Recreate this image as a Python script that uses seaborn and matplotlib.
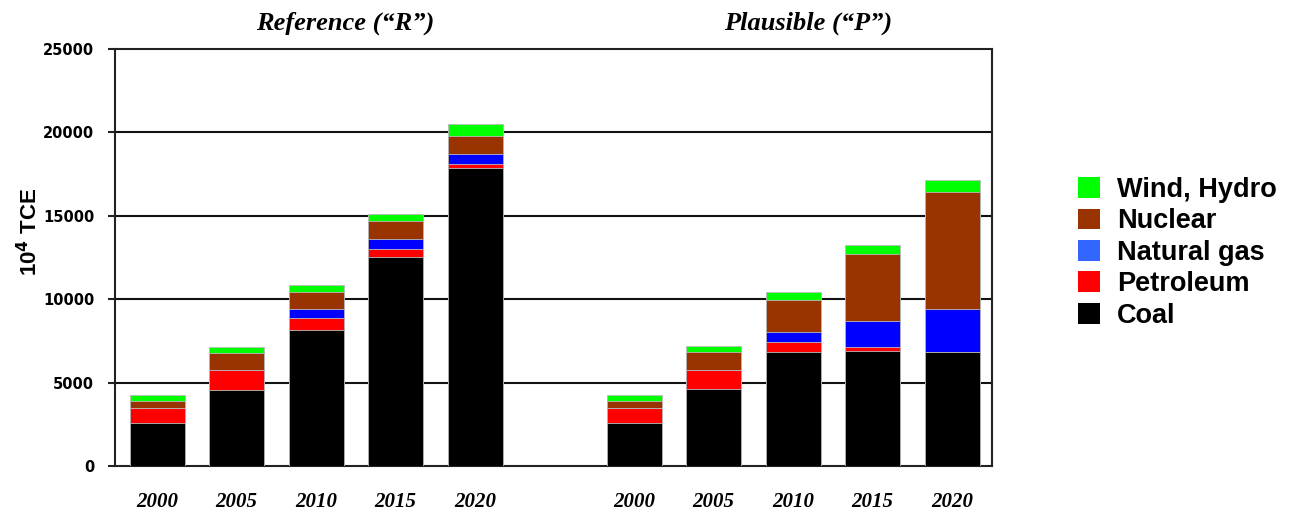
import pandas as pd
import seaborn as sns
from matplotlib import pyplot as plt
from matplotlib.patches import Patch

years = ["2000", "2005", "2010", "2015", "2020"]
sources = ["Coal", "Petroleum", "Natural gas", "Nuclear", "Wind, Hydro"]

coal_r = [2550, 4550, 8130, 12520, 17890]
petroleum_r = [950, 1200, 750, 500, 240]
gas_r = [0, 0, 540, 560, 600]
nuclear_r = [400, 1030, 1020, 1100, 1060]
wind_r = [330, 380, 420, 440, 720]

coal_p = [2560, 4600, 6810, 6910, 6810]
petroleum_p = [940, 1170, 620, 200, 0]
gas_p = [0, 0, 620, 1590, 2610]
nuclear_p = [390, 1040, 1880, 4020, 7030]
wind_p = [340, 400, 510, 520, 720]

bar_colors = {"Coal": "#000000", "Petroleum": "#ff0000", "Natural gas": "#0000ff",
              "Nuclear": "#993300", "Wind, Hydro": "#00ff00"}
legend_colors = {"Coal": "#000000", "Petroleum": "#ff0000", "Natural gas": "#3366ff",
                 "Nuclear": "#993300", "Wind, Hydro": "#00ff00"}

rows = []
for scen, series in [("R", [coal_r, petroleum_r, gas_r, nuclear_r, wind_r]),
                     ("P", [coal_p, petroleum_p, gas_p, nuclear_p, wind_p])]:
    for src, vals in zip(sources, series):
        for yr, v in zip(years, vals):
            rows.append({"slot": scen + yr, "year": yr, "source": src, "value": v})
df = pd.DataFrame(rows)
df["source"] = pd.Categorical(df["source"], categories=sources, ordered=True)
df = df.sort_values(["slot", "source"])
df["top"] = df.groupby("slot")["value"].cumsum()

# empty slot between the two scenarios
order = ["R" + y for y in years] + [" "] + ["P" + y for y in years]

sns.set_style("white")
plt.rcParams['font.family'] = ['DejaVu Sans']
plt.rcParams['text.color'] = "black"
plt.rcParams['xtick.color'] = "black"
plt.rcParams['ytick.color'] = "black"

fig = plt.figure(figsize=(12.94, 5.12), dpi=100)
ax = fig.add_axes([115 / 1294, 1 - 466 / 512, (992 - 115) / 1294, (466 - 49) / 512])

# stacked bars: draw cumulative totals from the top layer down
for src in sources[::-1]:
    sns.barplot(data=df[df["source"] == src], x="slot", y="top", order=order,
                color=bar_colors[src], saturation=1, width=0.69, errorbar=None,
                edgecolor="#bbbbbb", linewidth=0.6, ax=ax, zorder=3)

ax.set_xlim(-0.53, 10.5)
ax.set_ylim(0, 25000)
ax.set_yticks([0, 5000, 10000, 15000, 20000, 25000])
ax.set_yticklabels(["0", "5000", "10000", "15000", "20000", "25000"],
                   fontweight="bold", fontsize=10.5, color="black")
ax.set_xticks(range(len(order)))
ax.set_xticklabels([o[1:] if o.strip() else "" for o in order], color="black",
                   family="Liberation Serif", fontweight="bold", style="italic", fontsize=15)
ax.tick_params(axis="x", length=0, pad=19)
ax.tick_params(axis="y", length=5, width=1.5, color="#222222", direction="out", pad=10, left=True)
ax.set_xlabel("")
ax.set_ylabel("")
for y in [5000, 10000, 15000, 20000]:
    ax.axhline(y, color="#111111", linewidth=1.5, zorder=1)
for sp in ax.spines.values():
    sp.set_visible(True)
    sp.set_color("#222222")
    sp.set_linewidth(1.5)

fig.text(30 / 1294, 1 - 232 / 512, "10$^{\\mathbf{4}}$ TCE", rotation=90, ha="center", va="center",
         family="Liberation Sans", fontweight="bold", fontsize=16, color="black")
fig.text(345 / 1294, 1 - 23 / 512, "Reference (\u201cR\u201d)", ha="center", va="center",
         family="Liberation Serif", fontweight="bold", style="italic", fontsize=19, color="black")
fig.text(808 / 1294, 1 - 23 / 512, "Plausible (\u201cP\u201d)", ha="center", va="center",
         family="Liberation Serif", fontweight="bold", style="italic", fontsize=19, color="black")

handles = [Patch(facecolor=legend_colors[s], edgecolor="none", label=s) for s in sources[::-1]]
fig.legend(handles=handles, loc="upper left", bbox_to_anchor=(1078 / 1294, 1 - 177 / 512),
           frameon=False, borderaxespad=0, borderpad=0, handlelength=0.8, handleheight=0.8,
           handletextpad=0.65, labelspacing=0.2, labelcolor="black",
           prop={"family": "Liberation Sans", "weight": "bold", "size": 19.5})

fig.savefig("out.png", dpi=100)
